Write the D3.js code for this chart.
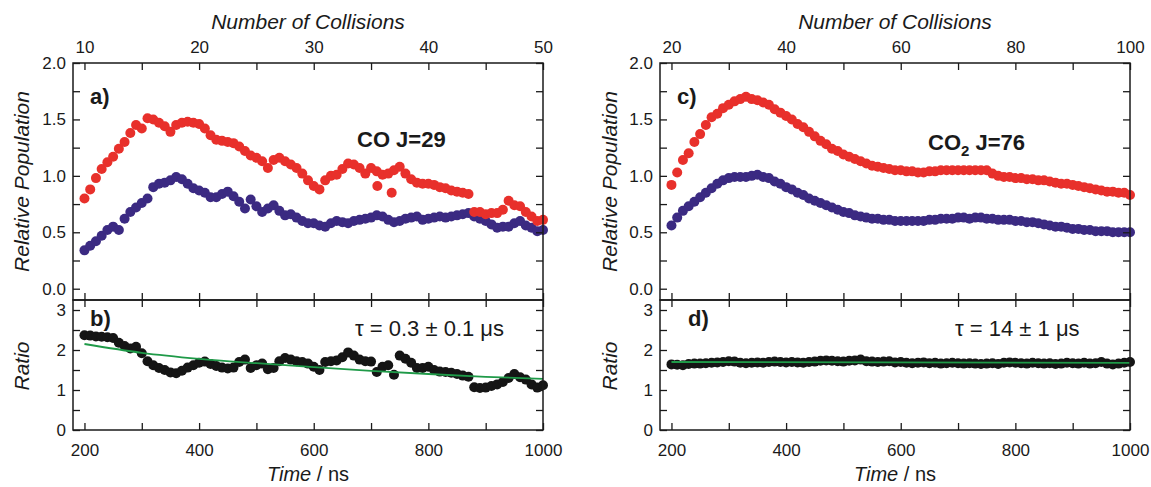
<!DOCTYPE html>
<html>
<head>
<meta charset="utf-8">
<script src="https://cdn.jsdelivr.net/npm/d3@7"></script>
<style>
  html, body { margin: 0; padding: 0; background: #ffffff; }
  svg text { font-family: "Liberation Sans", Arial, sans-serif; fill: #1a1a1a; }
</style>
</head>
<body>
<svg id="chart" width="1151" height="487"></svg>
<script>
// ---------------- DATA ----------------
const timeNs = [200,210,220,230,240,250,260,270,280,290,300,310,320,330,340,350,360,370,380,390,
  400,410,420,430,440,450,460,470,480,490,500,510,520,530,540,550,560,570,580,590,
  600,610,620,630,640,650,660,670,680,690,700,710,720,730,740,750,760,770,780,790,
  800,810,820,830,840,850,860,870,880,890,900,910,920,930,940,950,960,970,980,990,1000];

// Panel a) CO J=29
const coRed = [0.80,0.88,0.98,1.06,1.12,1.17,1.24,1.30,1.38,1.45,1.42,1.51,1.50,1.47,1.44,1.39,1.45,1.47,1.48,1.47,
  1.46,1.42,1.36,1.32,1.31,1.30,1.29,1.26,1.22,1.18,1.16,1.13,1.07,1.14,1.16,1.13,1.10,1.07,1.02,0.96,
  0.91,0.88,0.96,1.00,1.01,1.06,1.11,1.10,1.07,1.02,1.07,1.04,1.01,1.02,1.05,1.08,1.02,0.97,0.94,0.93,
  0.93,0.92,0.90,0.89,0.87,0.86,0.85,0.84,0.68,0.68,0.66,0.67,0.67,0.70,0.78,0.74,0.73,0.68,0.64,0.60,0.61];
const coRedExtraT = [711, 736];
const coRedExtraV = [0.91, 0.85];
const coBlue = [0.34,0.38,0.42,0.47,0.52,0.55,0.52,0.62,0.68,0.72,0.76,0.80,0.90,0.93,0.94,0.96,0.99,0.97,0.93,0.89,
  0.87,0.85,0.81,0.81,0.84,0.86,0.82,0.77,0.71,0.79,0.73,0.68,0.71,0.74,0.69,0.65,0.66,0.63,0.60,0.58,
  0.58,0.56,0.55,0.58,0.60,0.59,0.58,0.60,0.61,0.62,0.63,0.65,0.64,0.61,0.59,0.60,0.62,0.63,0.64,0.61,
  0.62,0.63,0.64,0.63,0.64,0.65,0.66,0.67,0.64,0.62,0.60,0.57,0.54,0.55,0.55,0.58,0.60,0.56,0.54,0.51,0.52];
// Panel b) ratio
const coRatio = [2.37,2.36,2.34,2.33,2.32,2.30,2.18,2.10,2.04,2.08,1.92,1.72,1.62,1.55,1.50,1.44,1.42,1.48,1.56,1.62,
  1.68,1.71,1.65,1.60,1.56,1.54,1.56,1.70,1.76,1.55,1.62,1.66,1.52,1.55,1.72,1.80,1.76,1.72,1.70,1.66,
  1.58,1.50,1.70,1.72,1.74,1.82,1.94,1.86,1.76,1.72,1.71,1.45,1.58,1.62,1.38,1.86,1.78,1.68,1.55,1.55,
  1.58,1.50,1.46,1.45,1.43,1.40,1.36,1.33,1.07,1.05,1.06,1.10,1.14,1.20,1.30,1.40,1.32,1.26,1.14,1.06,1.12];
const coFitT = [200,300,400,500,600,700,800,900,1000];
const coFitV = [2.15,1.93,1.78,1.67,1.57,1.48,1.40,1.33,1.28];

// Panel c) CO2 J=76
const co2Red = [0.92,1.03,1.14,1.20,1.30,1.37,1.45,1.52,1.55,1.60,1.63,1.66,1.68,1.70,1.68,1.67,1.65,1.63,1.59,1.56,
  1.53,1.50,1.46,1.43,1.39,1.35,1.31,1.28,1.24,1.22,1.19,1.17,1.15,1.13,1.11,1.09,1.08,1.07,1.06,1.05,
  1.05,1.04,1.04,1.03,1.03,1.04,1.04,1.05,1.05,1.05,1.05,1.05,1.05,1.05,1.05,1.05,1.02,1.00,0.99,0.99,
  0.98,0.98,0.97,0.97,0.96,0.96,0.95,0.94,0.93,0.93,0.92,0.91,0.90,0.89,0.88,0.87,0.86,0.86,0.85,0.85,0.83];
const co2Blue = [0.56,0.63,0.69,0.73,0.77,0.81,0.85,0.89,0.93,0.96,0.98,0.99,0.99,0.99,1.00,1.01,0.99,0.98,0.95,0.93,
  0.90,0.88,0.85,0.83,0.80,0.78,0.76,0.74,0.72,0.70,0.68,0.67,0.65,0.64,0.63,0.62,0.62,0.61,0.61,0.60,
  0.60,0.60,0.60,0.60,0.60,0.61,0.61,0.62,0.62,0.62,0.63,0.63,0.62,0.63,0.63,0.62,0.62,0.61,0.61,0.61,
  0.60,0.60,0.59,0.59,0.58,0.57,0.56,0.55,0.55,0.54,0.53,0.53,0.52,0.52,0.51,0.51,0.51,0.50,0.50,0.50,0.50];
// Panel d) ratio
const co2Ratio = [1.64,1.63,1.62,1.65,1.66,1.66,1.67,1.68,1.69,1.70,1.72,1.71,1.68,1.67,1.68,1.69,1.68,1.70,1.71,1.70,
  1.69,1.70,1.69,1.68,1.70,1.71,1.73,1.74,1.73,1.72,1.71,1.73,1.74,1.76,1.72,1.71,1.70,1.71,1.72,1.69,
  1.70,1.68,1.67,1.68,1.69,1.67,1.68,1.66,1.67,1.68,1.67,1.66,1.67,1.66,1.65,1.66,1.67,1.65,1.68,1.69,
  1.68,1.67,1.66,1.68,1.67,1.66,1.67,1.65,1.66,1.68,1.67,1.66,1.68,1.66,1.67,1.70,1.66,1.64,1.66,1.68,1.70];
const co2FitT = [200,1000];
const co2FitV = [1.70,1.68];

// Axis tick labels
const timeTickLabels = ["200","400","600","800","1000"];
const popTickLabels = ["0.0","0.5","1.0","1.5","2.0"];
const ratioTickLabels = ["0","1","2","3"];
const collTickLabelsA = ["10","20","30","40","50"];
const collTickLabelsC = ["20","40","60","80","100"];

// ---------------- DRAW ----------------
const svg = d3.select("#chart");
const RED = "#e8302b", BLUE = "#3b2a82", BLACK = "#151515", GREEN = "#1f9a48";
const R = 5, TICK = 7;

function drawPanel(cfg) {
  const x = d3.scaleLinear().domain([180, 1000]).range([cfg.x0, cfg.x1]);
  const yTop = d3.scaleLinear().domain([-0.1, 2.0]).range([300, 63]);
  const yBot = d3.scaleLinear().domain([0, 3.25]).range([430, 300]);
  const coll = d3.scaleLinear().domain(cfg.collDomain).range([x(200), x(1000)]);
  const g = svg.append("g");

  const strip = sel => { sel.select(".domain").remove(); sel.selectAll("text").style("font-size", "17px").attr("fill", "#1a1a1a"); sel.selectAll("line").attr("stroke", "#1a1a1a").attr("stroke-width", 1.3); };

  const timeTicks = d3.range(200, 1001, 100);
  const timeFmt = d => timeTickLabels.includes(String(d)) ? String(d) : "";
  const popTicks = d3.range(0, 2.01, 0.25);
  const popFmt = d => { const s = d3.format(".1f")(d); return (Math.abs(d*2 - Math.round(d*2)) < 1e-6) && popTickLabels.includes(s) ? s : ""; };
  const ratTicks = d3.range(0, 3.01, 0.5);
  const ratFmt = d => Number.isInteger(d) && ratioTickLabels.includes(String(d)) ? String(d) : "";
  const collTicks = d3.range(cfg.collDomain[0], cfg.collDomain[1] + 0.01, cfg.collMinor);
  const collFmt = d => cfg.collLabels.includes(String(d)) ? String(d) : "";

  // data: top panel
  const gp = g.append("g");
  gp.selectAll("circle.blue").data(timeNs.map((t, i) => [t, cfg.blue[i]])).join("circle")
    .attr("cx", d => x(d[0])).attr("cy", d => yTop(d[1])).attr("r", R).attr("fill", BLUE);
  const redPts = timeNs.map((t, i) => [t, cfg.red[i]]).concat(cfg.extraT.map((t, i) => [t, cfg.extraV[i]]));
  gp.selectAll("circle.red").data(redPts).join("circle")
    .attr("cx", d => x(d[0])).attr("cy", d => yTop(d[1])).attr("r", R).attr("fill", RED);

  // data: bottom panel
  g.append("g").selectAll("circle").data(timeNs.map((t, i) => [t, cfg.ratio[i]])).join("circle")
    .attr("cx", d => x(d[0])).attr("cy", d => yBot(d[1])).attr("r", R).attr("fill", BLACK);
  const fit = cfg.fitT.map((t, i) => [t, cfg.fitV[i]]);
  g.append("path").datum(fit)
    .attr("d", d3.line().x(d => x(d[0])).y(d => yBot(d[1])).curve(d3.curveMonotoneX))
    .attr("fill", "none").attr("stroke", GREEN).attr("stroke-width", 1.8);

  // frames
  g.append("rect").attr("x", cfg.x0).attr("y", 63).attr("width", cfg.x1 - cfg.x0).attr("height", 237)
    .attr("fill", "none").attr("stroke", "#1a1a1a").attr("stroke-width", 1.5);
  g.append("rect").attr("x", cfg.x0).attr("y", 300).attr("width", cfg.x1 - cfg.x0).attr("height", 130)
    .attr("fill", "none").attr("stroke", "#1a1a1a").attr("stroke-width", 1.5);

  // top panel axes
  g.append("g").attr("transform", `translate(0,63)`)
    .call(d3.axisTop(coll).tickValues(collTicks).tickFormat(collFmt).tickSize(-TICK).tickPadding(10)).call(strip);
  g.append("g").attr("transform", `translate(0,300)`)
    .call(d3.axisBottom(x).tickValues(timeTicks).tickFormat("").tickSize(-TICK)).call(strip);
  g.append("g").attr("transform", `translate(${cfg.x0},0)`)
    .call(d3.axisLeft(yTop).tickValues(popTicks).tickFormat(popFmt).tickSize(-TICK).tickPadding(7)).call(strip);
  g.append("g").attr("transform", `translate(${cfg.x1},0)`)
    .call(d3.axisRight(yTop).tickValues(popTicks).tickFormat("").tickSize(-TICK)).call(strip);

  // bottom panel axes
  g.append("g").attr("transform", `translate(0,300)`)
    .call(d3.axisTop(x).tickValues(timeTicks).tickFormat("").tickSize(-TICK)).call(strip);
  g.append("g").attr("transform", `translate(0,430)`)
    .call(d3.axisBottom(x).tickValues(timeTicks).tickFormat(timeFmt).tickSize(-TICK).tickPadding(14)).call(strip);
  g.append("g").attr("transform", `translate(${cfg.x0},0)`)
    .call(d3.axisLeft(yBot).tickValues(ratTicks).tickFormat(ratFmt).tickSize(-TICK).tickPadding(7)).call(strip);
  g.append("g").attr("transform", `translate(${cfg.x1},0)`)
    .call(d3.axisRight(yBot).tickValues(ratTicks).tickFormat("").tickSize(-TICK)).call(strip);

  // titles
  const cx = (cfg.x0 + cfg.x1) / 2;
  g.append("text").attr("x", cx).attr("y", 29).attr("text-anchor", "middle")
    .style("font-size", "21px").style("font-style", "italic").text("Number of Collisions");
  const tl = g.append("text").attr("x", cx).attr("y", 481).attr("text-anchor", "middle").style("font-size", "20px");
  tl.append("tspan").style("font-style", "italic").text("Time");
  tl.append("tspan").text(" / ns");
  g.append("text").attr("transform", `translate(${cfg.yLabelX},${yTop(0.95)}) rotate(-90)`)
    .attr("text-anchor", "middle").style("font-size", "21px").style("font-style", "italic").text("Relative Population");
  g.append("text").attr("transform", `translate(${cfg.yLabelX},${yBot(1.6)}) rotate(-90)`)
    .attr("text-anchor", "middle").style("font-size", "21px").style("font-style", "italic").text("Ratio");

  // annotations
  g.append("text").attr("x", cfg.x0 + 17).attr("y", 104).style("font-size", "22px").style("font-weight", "bold").text(cfg.labTop);
  g.append("text").attr("x", cfg.labBotX).attr("y", 326).style("font-size", "22px").style("font-weight", "bold").text(cfg.labBot);
  const sp = g.append("text").attr("x", cfg.specX).attr("y", cfg.specY).style("font-size", "22px").style("font-weight", "bold");
  sp.append("tspan").text("CO");
  if (cfg.sub) { sp.append("tspan").attr("dy", 6).style("font-size", "15px").text(cfg.sub); sp.append("tspan").attr("dy", -6).text(" J=" + cfg.J); }
  else sp.append("tspan").text(" J=" + cfg.J);
  g.append("text").attr("x", cfg.tauX).attr("y", 336).style("font-size", "22px").text(cfg.tau);
}

drawPanel({ x0: 73, x1: 543, collDomain: [10, 50], collMinor: 5, collLabels: collTickLabelsA,
  red: coRed, blue: coBlue, extraT: coRedExtraT, extraV: coRedExtraV, ratio: coRatio, fitT: coFitT, fitV: coFitV,
  yLabelX: 29, labTop: "a)", labBot: "b)", labBotX: 90, specX: 357, specY: 147, sub: null, J: "29",
  tauX: 355, tau: "\u03C4 = 0.3 \u00B1 0.1 \u03BCs" });
drawPanel({ x0: 660, x1: 1130, collDomain: [20, 100], collMinor: 10, collLabels: collTickLabelsC,
  red: co2Red, blue: co2Blue, extraT: [], extraV: [], ratio: co2Ratio, fitT: co2FitT, fitV: co2FitV,
  yLabelX: 617, labTop: "c)", labBot: "d)", labBotX: 688, specX: 928, specY: 150, sub: "2", J: "76",
  tauX: 955, tau: "\u03C4 = 14 \u00B1 1 \u03BCs" });
</script>
</body>
</html>
